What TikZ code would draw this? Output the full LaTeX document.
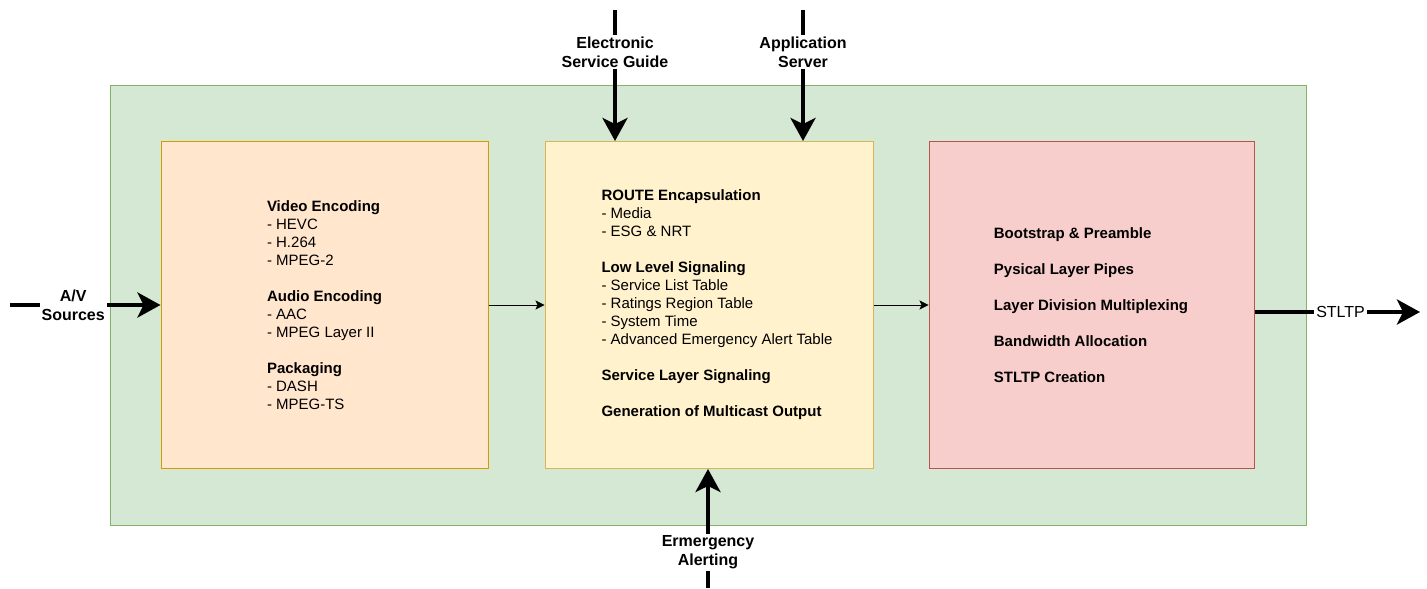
\documentclass[tikz,border=0pt]{standalone}
\usepackage{fontspec}
\setmainfont{Liberation Sans}
\usepackage{tikz}
\usetikzlibrary{arrows.meta, positioning}

\definecolor{framefill}{HTML}{D5E8D4}
\definecolor{frameline}{HTML}{82B366}
\definecolor{codingfill}{HTML}{FFE6CC}
\definecolor{codingline}{HTML}{D79B00}
\definecolor{muxfill}{HTML}{FFF2CC}
\definecolor{muxline}{HTML}{D6B656}
\definecolor{phyfill}{HTML}{F8CECC}
\definecolor{phyline}{HTML}{B85450}

\tikzset{
	stage/.style = {draw, line width = .5pt, minimum width = 163.5pt, minimum height = 163.5pt, inner sep = 0pt},
	listing/.style = {align = left, inner sep = 0pt, font = \fontsize{7.5pt}{9pt}\selectfont},
	feed/.style = {line width = 2pt, arrows = {-Stealth[length = 11.5pt, width = 12.5pt, inset = 3pt]}},
	link/.style = {line width = .5pt, arrows = {-Stealth[length = 4.5pt, width = 4.5pt, inset = 1pt]}},
	tag/.style = {fill = white, align = center, inner xsep = 1pt, inner ysep = 1pt, font = \fontsize{8pt}{9.5pt}\selectfont\bfseries}
}

\begin{document}
\begin{tikzpicture}[x = .5pt, y = -.5pt]
	\useasboundingbox (0, 0) rectangle (1427, 588);
	\node[draw = frameline, fill = framefill, line width = .5pt, minimum width = 598pt, minimum height = 220pt, inner sep = 0pt] (gateway) at (708, 305.3) {};
	\node[stage, draw = codingline, fill = codingfill] (coding) at (324.5, 305) {};
	\node[stage, draw = muxline, fill = muxfill, minimum width = 164pt] (mux) at (709, 305) {};
	\node[stage, draw = phyline, fill = phyfill, minimum width = 162.5pt] (phy) at (1091.5, 305) {};
	\node[listing] (codingtext) at (324.5, 305) {\textbf{Video Encoding}\\- HEVC\\- H.264\\- MPEG-2\\[9pt]\textbf{Audio Encoding}\\- AAC\\- MPEG Layer II\\[9pt]\textbf{Packaging}\\- DASH\\- MPEG-TS};
	\node[listing] (muxtext) at (717, 305) {\textbf{ROUTE Encapsulation}\\- Media\\- ESG \& NRT\\[9pt]\textbf{Low Level Signaling}\\- Service List Table\\- Ratings Region Table\\- System Time\\- Advanced Emergency Alert Table\\[9pt]\textbf{Service Layer Signaling}\\[9pt]\textbf{Generation of Multicast Output}};
	\node[listing, font = \fontsize{7.5pt}{9pt}\selectfont\bfseries] (phytext) at (1091, 305) {Bootstrap \& Preamble\\[9pt]Pysical Layer Pipes\\[9pt]Layer Division Multiplexing\\[9pt]Bandwidth Allocation\\[9pt]STLTP Creation};
	% inputs and output
	\coordinate (avin) at (10, 305);
	\coordinate (esgin) at (615, 10);
	\coordinate (appin) at (803, 10);
	\coordinate (alertin) at (708, 588);
	\coordinate (stltpout) at (1420, 312);
	\draw[feed] (avin) -- (coding.west) node[tag, pos = .42] {A/V\\Sources};
	\draw[feed] (esgin) -- (esgin |- mux.north) node[tag, pos = .32] {Electronic\\Service Guide};
	\draw[feed] (appin) -- (appin |- mux.north) node[tag, pos = .32] {Application\\Server};
	\draw[feed] (alertin) -- (alertin |- mux.south) node[tag, pos = .3] {Ermergency\\Alerting};
	\draw[feed] (phy.east |- stltpout) -- (stltpout) node[tag, pos = .52, font = \fontsize{8pt}{9.5pt}\selectfont] {STLTP};
	\draw[link] (coding.east) -- (mux.west);
	\draw[link] (mux.east) -- (phy.west);
\end{tikzpicture}
\end{document}
